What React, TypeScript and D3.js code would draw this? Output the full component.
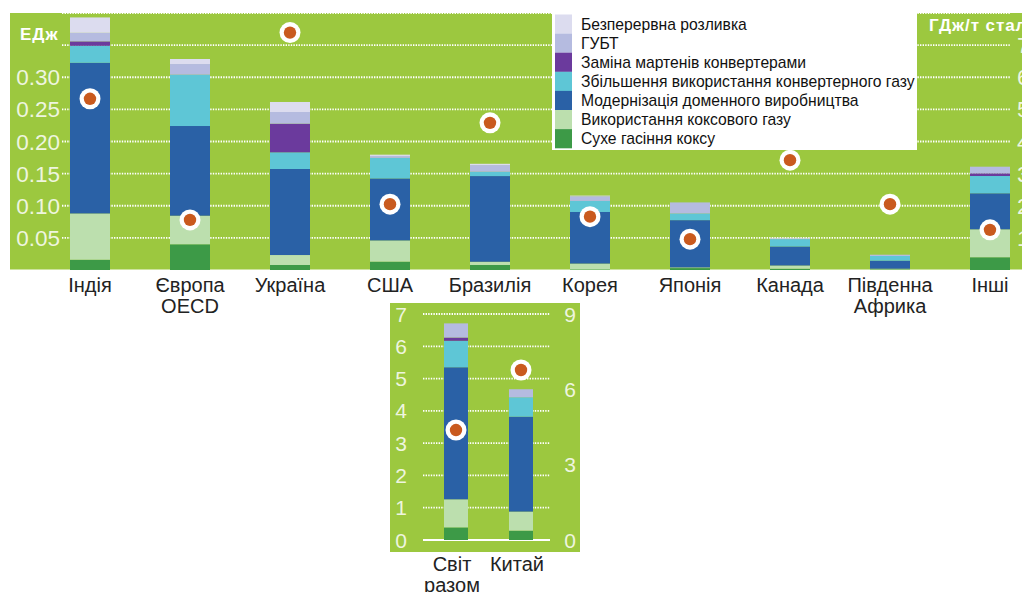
import React from "react";
import * as d3 from "d3";

// ---------- Main chart data (ЕДж) ----------
const categories = ["Індія", "Європа\nOECD", "Україна", "США", "Бразилія", "Корея", "Японія", "Канада", "Південна\nАфрика", "Інші"];
const seriesNames = [
  "Сухе гасіння коксу",
  "Використання коксового газу",
  "Модернізація доменного виробництва",
  "Збільшення використання конвертерного газу",
  "Заміна мартенів конвертерами",
  "ГУБТ",
  "Безперервна розливка",
];
const seriesColors = ["#3d9a47", "#bcdfae", "#2a61a6", "#5ec6d6", "#6b3a9d", "#b5bbe0", "#dcdcef"];

const dryQuenching = [0.016, 0.040, 0.0078, 0.013, 0.0078, 0.001, 0.003, 0.002, 0.001, 0.0198];
const cokeGas = [0.072, 0.0445, 0.0155, 0.033, 0.005, 0.009, 0.001, 0.005, 0.001, 0.0435];
const blastFurnace = [0.2345, 0.1396, 0.1339, 0.0965, 0.1334, 0.0803, 0.0736, 0.0296, 0.0125, 0.0561];
const bofGas = [0.0264, 0.0799, 0.026, 0.032, 0.0067, 0.0172, 0.0104, 0.0115, 0.0073, 0.0269];
const ohfReplacement = [0.0069, 0, 0.0445, 0, 0, 0, 0, 0, 0, 0.0042];
const trt = [0.0133, 0.0166, 0.0182, 0.003, 0.0104, 0.0073, 0.0172, 0.001, 0.002, 0.0103];
const continuousCasting = [0.024, 0.0078, 0.0156, 0.002, 0.002, 0.001, 0, 0.001, 0, 0];
// ГДж/т сталі (right axis)
const intensityGJ = [5.33, 1.56, 7.39, 2.05, 4.58, 1.66, 0.96, 3.42, 2.05, 1.25];

const leftTicks = [0.05, 0.1, 0.15, 0.2, 0.25, 0.3];
const gridValues = [0.05, 0.1, 0.15, 0.2, 0.25, 0.3, 0.35, 0.4];
const rightTicks = [1, 2, 3, 4, 5, 6, 7];

// ---------- Inset data (ЕДж) ----------
const insetCategories = ["Світ\nразом", "Китай"];
const insetDryQuenching = [0.39, 0.29];
const insetCokeGas = [0.87, 0.59];
const insetBlastFurnace = [4.09, 2.94];
const insetBofGas = [0.82, 0.6];
const insetOhfReplacement = [0.1, 0];
const insetTrt = [0.44, 0.25];
const insetContinuousCasting = [0, 0];
const insetIntensityGJ = [4.38, 6.77];
const insetLeftTicks = [0, 1, 2, 3, 4, 5, 6, 7];
const insetRightTicks = [0, 3, 6, 9];

const FONT = "'Liberation Sans', Arial, sans-serif";
const GREEN = "#9cc83f";
const TICK_COLOR = "#eef5df";

function buildRows(cats: string[], cols: number[][]) {
  return cats.map((c, i) => {
    const row: any = { cat: c };
    seriesNames.forEach((s, j) => (row[s] = cols[j][i]));
    return row;
  });
}

function Label({ x, y, text, size, lh }: { x: number; y: number; text: string; size: number; lh: number }) {
  const lines = text.split("\n");
  return (
    <text x={x} y={y} textAnchor="middle" fontSize={size} fill="#222" fontFamily={FONT}>
      {lines.map((l, i) => (
        <tspan key={i} x={x} dy={i === 0 ? 0 : lh}>
          {l}
        </tspan>
      ))}
    </text>
  );
}

export default function App() {
  // main
  const rows = buildRows(categories, [dryQuenching, cokeGas, blastFurnace, bofGas, ohfReplacement, trt, continuousCasting]);
  const stacked = d3.stack<any>().keys(seriesNames)(rows);
  const x = d3.scalePoint<string>().domain(categories).range([90, 990]);
  const y = d3.scaleLinear().domain([0, 0.4]).range([270, 13]);
  const yRight = d3.scaleLinear().domain([0, 8]).range([270, 13]);
  const barW = 40;

  // inset
  const insetRows = buildRows(insetCategories, [insetDryQuenching, insetCokeGas, insetBlastFurnace, insetBofGas, insetOhfReplacement, insetTrt, insetContinuousCasting]);
  const insetStacked = d3.stack<any>().keys(seriesNames)(insetRows);
  const xi = d3.scalePoint<string>().domain(insetCategories).range([456, 521]);
  const yi = d3.scaleLinear().domain([0, 7]).range([540, 314]);
  const yiRight = d3.scaleLinear().domain([0, 9]).range([540, 314]);
  const insetBarW = 24;

  const legendItems = seriesNames.map((s, i) => ({ name: s, color: seriesColors[i] })).reverse();

  const Dot = ({ cx, cy }: { cx: number; cy: number }) => (
    <g>
      <circle cx={cx} cy={cy} r={10.5} fill="#ffffff" />
      <circle cx={cx} cy={cy} r={6.2} fill="#c95a1e" />
    </g>
  );

  return (
    <svg
      width={1022}
      height={592}
      style={{ position: "fixed", left: 0, top: 0, background: "#fff" }}
      fontFamily={FONT}
    >
      {/* main panel */}
      <rect x={10} y={13} width={1012} height={256.5} fill={GREEN} />
      {gridValues.map((v) => (
        <line key={v} x1={62} x2={1011} y1={y(v)} y2={y(v)} stroke="#fff" strokeWidth={1.8} strokeDasharray="1.4 1.2" />
      ))}
      {leftTicks.map((v) => (
        <text key={v} x={60} y={y(v)} dy="0.36em" textAnchor="end" fontSize={22.5} fill={TICK_COLOR}>
          {v.toFixed(2)}
        </text>
      ))}
      {rightTicks.map((v) => (
        <text key={v} x={1017} y={yRight(v)} dy="0.36em" textAnchor="start" fontSize={22.5} fill={TICK_COLOR}>
          {v}
        </text>
      ))}
      <text x={20} y={40} fontSize={17} fontWeight="bold" fill="#fff" letterSpacing={1}>
        ЕДж
      </text>
      <text x={929} y={31} fontSize={17} fontWeight="bold" fill="#fff" letterSpacing={0.9}>
        ГДж/т сталі
      </text>

      {stacked.map((layer, li) => (
        <g key={layer.key} fill={seriesColors[li]}>
          {layer.map((d: any, i: number) => {
            const h = y(d[0]) - y(d[1]);
            if (h <= 0) return null;
            return <rect key={i} x={(x(d.data.cat) as number) - barW / 2} y={y(d[1])} width={barW} height={h} />;
          })}
        </g>
      ))}
      {categories.map((c, i) => (
        <Dot key={c} cx={x(c) as number} cy={yRight(intensityGJ[i])} />
      ))}
      {categories.map((c) => (
        <Label key={c} x={x(c) as number} y={292} text={c} size={20} lh={21} />
      ))}

      {/* legend */}
      <rect x={552} y={13} width={365} height={137} fill="#fff" />
      {legendItems.map((it, i) => (
        <g key={it.name}>
          <rect x={555} y={14.5 + i * 19.1} width={17} height={19.2} fill={it.color} />
          <text x={581} y={14.5 + i * 19.1 + 9.6} dy="0.36em" fontSize={15.7} fill="#111">
            {it.name}
          </text>
        </g>
      ))}

      {/* inset */}
      <rect x={390} y={303} width={190} height={249} fill={GREEN} />
      {insetLeftTicks.filter((v) => v > 0).map((v) => (
        <line key={v} x1={423} x2={550} y1={yi(v)} y2={yi(v)} stroke="#fff" strokeWidth={1.8} strokeDasharray="1.4 1.2" />
      ))}
      <line x1={423} x2={550} y1={yi(0)} y2={yi(0)} stroke="#fff" strokeWidth={2} />
      {insetLeftTicks.map((v) => (
        <text key={v} x={401} y={yi(v)} dy="0.36em" textAnchor="middle" fontSize={21} fill={TICK_COLOR}>
          {v}
        </text>
      ))}
      {insetRightTicks.map((v) => (
        <text key={v} x={570} y={yiRight(v)} dy="0.36em" textAnchor="middle" fontSize={21} fill={TICK_COLOR}>
          {v}
        </text>
      ))}
      {insetStacked.map((layer, li) => (
        <g key={layer.key} fill={seriesColors[li]}>
          {layer.map((d: any, i: number) => {
            const h = yi(d[0]) - yi(d[1]);
            if (h <= 0) return null;
            return <rect key={i} x={(xi(d.data.cat) as number) - insetBarW / 2} y={yi(d[1])} width={insetBarW} height={h} />;
          })}
        </g>
      ))}
      {insetCategories.map((c, i) => (
        <Dot key={c} cx={xi(c) as number} cy={yiRight(insetIntensityGJ[i])} />
      ))}
      {insetCategories.map((c) => (
        <Label key={c} x={(xi(c) as number) - 4} y={571} text={c} size={20} lh={21} />
      ))}
    </svg>
  );
}
